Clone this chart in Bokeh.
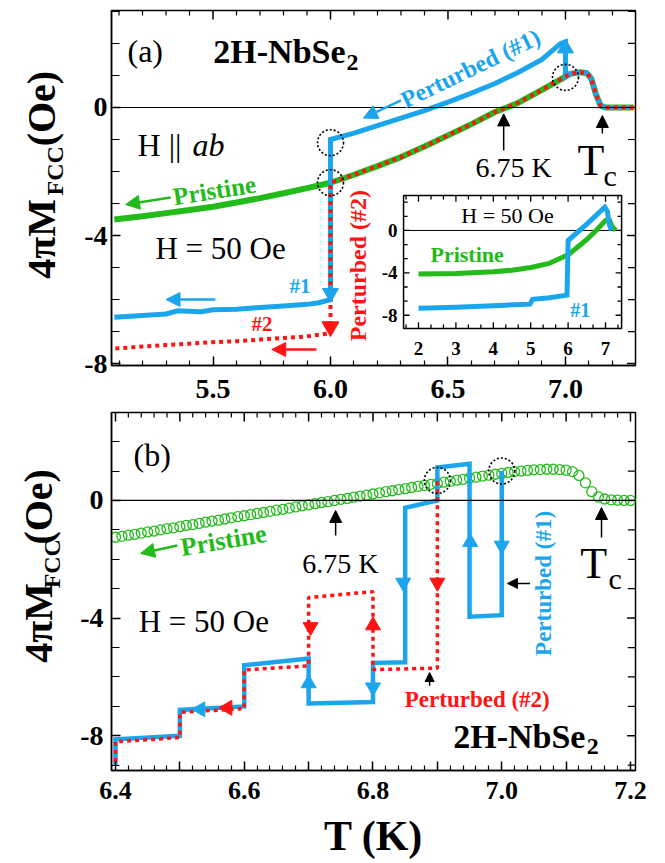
import math
from bokeh.plotting import figure
from bokeh.layouts import column, row
from bokeh.models import (Range1d, LinearAxis, FixedTicker, PrintfTickFormatter,
                          Span, Label, Arrow, NormalHead)
from bokeh.embed import file_html
from bokeh.resources import INLINE

FONT = "Liberation Serif"
BLUE = "#1BA5EC"
RED = "#FF1414"
GREEN = "#22BB1A"

# ---------------- panel (a) data ----------------
a_pristine_T = [5.08, 5.2, 5.3, 5.4, 5.5, 5.6, 5.7, 5.8, 5.9, 6.0, 6.1, 6.2, 6.3, 6.4, 6.5,
                6.6, 6.7, 6.75, 6.8, 6.9, 6.97, 7.02, 7.06, 7.09, 7.11, 7.13, 7.15, 7.17, 7.2, 7.29]
a_pristine_M = [-3.5, -3.4, -3.3, -3.2, -3.1, -2.97, -2.83, -2.68, -2.52, -2.35, -2.1, -1.83,
                -1.55, -1.22, -0.87, -0.52, -0.14, 0.0, 0.15, 0.55, 0.84, 1.05, 1.1, 1.08, 0.9,
                0.4, 0.05, 0.0, 0.0, 0.0]
a_blue_T = [7.29, 7.2, 7.17, 7.15, 7.13, 7.11, 7.09, 7.06, 7.02, 7.0, 7.0, 6.98, 6.9, 6.8, 6.7,
            6.6, 6.5, 6.4, 6.3, 6.2, 6.1, 6.0, 6.0, 5.95, 5.9, 5.8, 5.7, 5.6, 5.5, 5.45, 5.35,
            5.3, 5.2, 5.08]
a_blue_M = [0.0, 0.0, 0.0, 0.05, 0.4, 0.9, 1.08, 1.1, 1.05, 0.95, 2.05, 2.0, 1.5, 1.1, 0.75,
            0.45, 0.17, -0.1, -0.33, -0.57, -0.8, -1.0, -6.0, -6.1, -6.15, -6.2, -6.25, -6.3,
            -6.32, -6.38, -6.35, -6.45, -6.5, -6.55]
a_red_low_T = [6.0, 5.9, 5.8, 5.7, 5.6, 5.5, 5.4, 5.3, 5.2, 5.08]
a_red_low_M = [-7.05, -7.15, -7.2, -7.25, -7.3, -7.33, -7.38, -7.42, -7.47, -7.53]

inset_pristine_T = [2.0, 3.0, 4.0, 4.5, 5.0, 5.5, 6.0, 6.5, 6.75, 7.0, 7.1, 7.17, 7.27]
inset_pristine_M = [-4.1, -4.05, -3.9, -3.75, -3.5, -3.1, -2.3, -0.85, 0.0, 0.95, 1.05, 0.4, 0.0]
inset_blue_T = [2.0, 3.0, 4.0, 4.98, 5.05, 5.5, 5.97, 6.0, 6.5, 6.98, 7.05, 7.1, 7.16]
inset_blue_M = [-7.35, -7.25, -7.1, -6.95, -6.5, -6.35, -6.1, -0.95, 0.6, 2.2, 1.8, 0.6, 0.0]

a_xticks = [5.5, 6.0, 6.5, 7.0]
a_xminor = [5.1, 5.2, 5.3, 5.4, 5.6, 5.7, 5.8, 5.9, 6.1, 6.2, 6.3, 6.4, 6.6, 6.7, 6.8, 6.9, 7.1, 7.2]
a_yticks = [-8, -4, 0]
a_yminor = [-7, -6, -5, -3, -2, -1, 1, 2, 3]
inset_xticks = [2, 3, 4, 5, 6, 7]
inset_yticks = [-8, -4, 0]

# ---------------- panel (b) data ----------------
b_pristine_T = [6.40, 6.41, 6.42, 6.43, 6.44, 6.45, 6.46, 6.47, 6.48, 6.49, 6.50, 6.51, 6.52,
                6.53, 6.54, 6.55, 6.56, 6.57, 6.58, 6.59, 6.60, 6.61, 6.62, 6.63, 6.64, 6.65,
                6.66, 6.67, 6.68, 6.69, 6.70, 6.71, 6.72, 6.73, 6.74, 6.75, 6.76, 6.77, 6.78,
                6.79, 6.80, 6.81, 6.82, 6.83, 6.84, 6.85, 6.86, 6.87, 6.88, 6.89, 6.90, 6.91,
                6.92, 6.93, 6.94, 6.95, 6.96, 6.97, 6.98, 6.99, 7.00, 7.01, 7.02, 7.03, 7.04,
                7.05, 7.06, 7.07, 7.08, 7.09, 7.10, 7.11, 7.12, 7.13, 7.14, 7.15, 7.16, 7.17,
                7.18, 7.19, 7.20]
b_pristine_M = [-1.25, -1.22, -1.18, -1.15, -1.11, -1.07, -1.04, -1.00, -0.96, -0.93, -0.89,
                -0.85, -0.82, -0.78, -0.74, -0.70, -0.67, -0.63, -0.59, -0.55, -0.52, -0.48,
                -0.44, -0.41, -0.37, -0.33, -0.30, -0.26, -0.22, -0.18, -0.15, -0.11, -0.07,
                -0.04, 0.00, 0.04, 0.07, 0.11, 0.15, 0.18, 0.22, 0.26, 0.30, 0.33, 0.37, 0.40,
                0.44, 0.48, 0.51, 0.55, 0.58, 0.62, 0.65, 0.69, 0.72, 0.76, 0.79, 0.83, 0.86,
                0.89, 0.92, 0.95, 0.98, 1.00, 1.02, 1.04, 1.05, 1.06, 1.06, 1.05, 1.03, 0.98,
                0.85, 0.60, 0.30, 0.12, 0.05, 0.02, 0.01, 0.00, 0.00]
b_blue_T = [7.0, 7.0, 6.95, 6.95, 6.9, 6.9, 6.85, 6.85, 6.8, 6.8, 6.7, 6.7, 6.6, 6.6, 6.5, 6.5,
            6.4, 6.4]
b_blue_M = [1.0, -3.9, -3.95, 1.25, 1.12, 0.0, -0.25, -5.5, -5.52, -6.85, -6.9, -5.37, -5.6,
            -7.0, -7.12, -8.0, -8.12, -9.0]
b_red_T = [6.9, 6.9, 6.8, 6.8, 6.7, 6.7, 6.6, 6.6, 6.5, 6.5, 6.4, 6.4]
b_red_M = [0.65, -5.7, -5.75, -3.1, -3.3, -5.62, -5.76, -7.08, -7.2, -8.06, -8.2, -9.0]

b_xticks = [6.4, 6.5, 6.6, 6.7, 6.8, 6.9, 7.0, 7.1, 7.2]
b_xminor = [6.42, 6.44, 6.46, 6.48, 6.52, 6.54, 6.56, 6.58, 6.62, 6.64, 6.66, 6.68, 6.72, 6.74,
            6.76, 6.78, 6.82, 6.84, 6.86, 6.88, 6.92, 6.94, 6.96, 6.98, 7.02, 7.04, 7.06, 7.08,
            7.12, 7.14, 7.16, 7.18]
b_xlabel_hidden = {6.5: "", 6.7: "", 6.9: "", 7.1: ""}
b_yticks = [-8, -4, 0]
b_yminor = [-9, -7, -6, -5, -3, -2, -1, 1, 2]


# ---------------- helpers ----------------
def add_axis(p, loc, ticks, minor, fmt, size, standoff, tick_len=9, minor_len=5,
             overrides=None):
    ax = LinearAxis(ticker=FixedTicker(ticks=ticks, minor_ticks=minor),
                    formatter=PrintfTickFormatter(format=fmt))
    ax.axis_line_color = "black"
    ax.axis_line_width = 1.5
    ax.major_tick_in = tick_len
    ax.major_tick_out = 0
    ax.minor_tick_in = minor_len
    ax.minor_tick_out = 0
    ax.major_tick_line_width = 1.5
    ax.minor_tick_line_width = 1.2
    ax.major_tick_line_color = "black"
    ax.minor_tick_line_color = "black"
    ax.major_label_text_font = FONT
    ax.major_label_text_font_style = "bold"
    ax.major_label_text_color = "black"
    ax.major_label_text_font_size = size
    ax.major_label_standoff = standoff
    if overrides:
        ax.major_label_overrides = overrides
    p.add_layout(ax, loc)
    return ax


def mirror_ticks(p, xr, yr, xt, xm, yt, ym, lx, lxm, ly, lym):
    """inward ticks on the top and right frame edges (lengths in data units)"""
    top, right = yr[1], xr[1]
    for xs, ln, w in ((xt, lx, 1.5), (xm, lxm, 1.2)):
        p.segment(x0=xs, y0=[top] * len(xs), x1=xs, y1=[top - ln] * len(xs),
                  line_color="black", line_width=w)
    for ys, ln, w in ((yt, ly, 1.5), (ym, lym, 1.2)):
        p.segment(x0=[right] * len(ys), y0=ys, x1=[right - ln] * len(ys), y1=ys,
                  line_color="black", line_width=w)


def lab(p, x, y, text, size, color="black", style="normal", angle=0.0, align="left",
        baseline="middle", xr="default", yr="default"):
    p.add_layout(Label(x=x, y=y, text=text, text_font=FONT, text_font_size=size,
                       text_font_style=style, text_color=color, angle=angle,
                       text_align=align, text_baseline=baseline,
                       x_range_name=xr, y_range_name=yr))


def arr(p, x0, y0, x1, y1, color, size=12, width=2.0):
    p.add_layout(Arrow(end=NormalHead(size=size, fill_color=color, line_color=color),
                       x_start=x0, y_start=y0, x_end=x1, y_end=y1,
                       line_color=color, line_width=width))


def base_fig(w, h, xr, yr, bl, br, bt, bb):
    p = figure(width=w, height=h, x_range=Range1d(*xr), y_range=Range1d(*yr),
               output_backend="svg", toolbar_location=None,
               x_axis_type=None, y_axis_type=None,
               min_border_left=bl, min_border_right=br, min_border_top=bt,
               min_border_bottom=bb)
    p.outline_line_color = "black"
    p.outline_line_width = 1.5
    p.background_fill_color = "white"
    p.border_fill_color = "white"
    return p


def title_fig(h):
    """narrow strip holding the rotated y-axis title (coordinates = pixels, y downward)"""
    t = figure(width=LEFT_W, height=h, x_range=Range1d(0, LEFT_W), y_range=Range1d(h, 0),
               output_backend="svg", toolbar_location=None,
               x_axis_type=None, y_axis_type=None,
               min_border_left=0, min_border_right=0, min_border_top=0, min_border_bottom=0)
    t.outline_line_color = None
    t.background_fill_color = "white"
    t.border_fill_color = "white"
    return t


LEFT_W = 74
MAIN_W = 650 - LEFT_W
H_A, H_B = 405, 458

# ================= panel (a) =================
XR_A, YR_A = (5.068, 7.298), (-8.06, 3.03)
pa = base_fig(MAIN_W, H_A, XR_A, YR_A, 111 - LEFT_W, 15, 10, 40)
add_axis(pa, "below", a_xticks, a_xminor, "%.1f", "28px", 14)
add_axis(pa, "left", a_yticks, a_yminor, "%d", "28px", 4, 9, 8)
mirror_ticks(pa, XR_A, YR_A, a_xticks, a_xminor, a_yticks, a_yminor, 0.28, 0.16, 0.036, 0.032)
pa.add_layout(Span(location=0, dimension="width", line_color="black", line_width=1.2))

# inset scales (extra ranges mapped onto the main frame)
pa.extra_x_ranges = {"ix": Range1d(-6.209, 7.802)}
pa.extra_y_ranges = {"iy": Range1d(-12.74, 20.75)}
IN_L, IN_R, IN_B, IN_T = 1.6, 7.43, -9.25, 3.3

pa.line(a_pristine_T, a_pristine_M, line_color=GREEN, line_width=6)
pa.line(a_blue_T, a_blue_M, line_color=BLUE, line_width=5, line_join="miter")
a_red_T = [t for t in a_pristine_T[::-1] if t >= 6.0] + a_red_low_T
a_red_M = [m for t, m in zip(a_pristine_T[::-1], a_pristine_M[::-1]) if t >= 6.0] + a_red_low_M
pa.line(a_red_T, a_red_M, line_color=RED, line_width=4, line_dash="4 4")

pa.scatter([7.0], [1.85], marker="triangle", size=16, color=BLUE)
pa.scatter([6.0], [-5.8], marker="inverted_triangle", size=16, color=BLUE)
pa.scatter([6.0], [-6.85], marker="inverted_triangle", size=17, color=RED)
pa.scatter([6.0, 6.0, 7.0], [-1.1, -2.35, 0.94], marker="circle", size=26, fill_alpha=0,
           line_color="black", line_width=1.6, line_dash="2 2")

arr(pa, 5.51, -6.0, 5.30, -6.0, BLUE, 14, 2.5)
arr(pa, 5.94, -7.56, 5.75, -7.56, RED, 14, 2.5)
arr(pa, 6.30, 0.22, 6.14, -0.33, BLUE, 14, 2.5)
arr(pa, 5.32, -2.81, 5.128, -3.03, GREEN, 14, 2.5)
arr(pa, 6.737, -1.34, 6.737, -0.2, "black", 12, 1.5)
arr(pa, 7.157, -0.81, 7.157, -0.25, "black", 12, 1.5)

lab(pa, 5.136, 1.75, "(a)", "32px")
lab(pa, 6.064, 1.74, "2H-NbSe", "34px", style="bold", align="right")
lab(pa, 6.068, 1.41, "2", "24px", style="bold")
lab(pa, 5.179, -1.16, "H || ", "32px")
lab(pa, 5.413, -1.16, "ab", "32px", style="italic")
lab(pa, 5.255, -4.39, "H = 50 Oe", "31px")
lab(pa, 5.506, -2.59, "Pristine", "25px", GREEN, "bold", 0.157, "center")
lab(pa, 6.596, 1.22, "Perturbed (#1)", "24px", BLUE, "bold", 0.449, "center")
lab(pa, 6.115, -4.94, "Perturbed (#2)", "24px", RED, "bold", math.pi / 2, "center")
lab(pa, 5.825, -5.59, "#1", "21px", BLUE, "bold")
lab(pa, 5.664, -6.75, "#2", "21px", RED, "bold")
lab(pa, 6.617, -1.89, "6.75 K", "28px")
lab(pa, 7.051, -1.66, "T", "44px")
lab(pa, 7.162, -2.125, "c", "30px")

# inset
IK = dict(x_range_name="ix", y_range_name="iy")
pa.quad(left=[IN_L], right=[IN_R], bottom=[IN_B], top=[IN_T], fill_color="white",
        line_color="black", line_width=1.5, **IK)
pa.segment(x0=[IN_L], y0=[0], x1=[IN_R], y1=[0], line_color="black", line_width=1.0, **IK)
ix_minor = [x + d for x in [1] + inset_xticks for d in (1 / 3, 2 / 3)]
ix_minor = [x for x in ix_minor if IN_L < x < IN_R]
iy_minor = [y + d for y in [-12] + inset_yticks for d in (4 / 3, 8 / 3)]
iy_minor = [y for y in iy_minor if IN_B < y < IN_T]
for xs, ln in ((inset_xticks, 0.6), (ix_minor, 0.38)):
    pa.segment(x0=xs, y0=[IN_B] * len(xs), x1=xs, y1=[IN_B + ln] * len(xs),
               line_color="black", line_width=1.3, **IK)
    pa.segment(x0=xs, y0=[IN_T] * len(xs), x1=xs, y1=[IN_T - ln] * len(xs),
               line_color="black", line_width=1.3, **IK)
for ys, ln in ((inset_yticks, 0.16), (iy_minor, 0.11)):
    pa.segment(x0=[IN_L] * len(ys), y0=ys, x1=[IN_L + ln] * len(ys), y1=ys,
               line_color="black", line_width=1.3, **IK)
    pa.segment(x0=[IN_R] * len(ys), y0=ys, x1=[IN_R - ln] * len(ys), y1=ys,
               line_color="black", line_width=1.3, **IK)
pa.line(inset_pristine_T, inset_pristine_M, line_color=GREEN, line_width=5, **IK)
pa.line(inset_blue_T, inset_blue_M, line_color=BLUE, line_width=5, line_join="miter", **IK)
for t in inset_xticks:
    lab(pa, t, -11.18, str(t), "19px", style="bold", align="center", xr="ix", yr="iy")
for v in inset_yticks:
    lab(pa, 1.44, v, str(v), "19px", style="bold", align="right", xr="ix", yr="iy")
lab(pa, 4.38, 1.37, "H = 50 Oe", "22px", align="center", xr="ix", yr="iy")
lab(pa, 2.32, -2.31, "Pristine", "22px", GREEN, "bold", xr="ix", yr="iy")
lab(pa, 6.06, -7.55, "#1", "20px", BLUE, "bold", xr="ix", yr="iy")

# y-axis title (a)
ta = title_fig(H_A)
lab(ta, 41, 306, "4πM", "40px", style="bold", angle=math.pi / 2)
lab(ta, 54, 211, "FCC", "24px", style="bold", angle=math.pi / 2)
lab(ta, 41, 155, "(Oe)", "40px", style="bold", angle=math.pi / 2)

# ================= panel (b) =================
XR_B, YR_B = (6.3938, 7.2078), (-9.18, 2.99)
pb = base_fig(MAIN_W, H_B, XR_B, YR_B, 111 - LEFT_W, 15, 7, 93)
xb = add_axis(pb, "below", b_xticks, b_xminor, "%.1f", "26px", 11, 9, 5, b_xlabel_hidden)
xb.axis_label = "T (K)"
xb.axis_label_text_font = FONT
xb.axis_label_text_font_style = "bold"
xb.axis_label_text_font_size = "42px"
xb.axis_label_text_color = "black"
xb.axis_label_standoff = 11
add_axis(pb, "left", b_yticks, b_yminor, "%d", "28px", 8, 9, 8)
mirror_ticks(pb, XR_B, YR_B, b_xticks, b_xminor, b_yticks, b_yminor, 0.31, 0.17, 0.013, 0.012)
pb.add_layout(Span(location=0, dimension="width", line_color="black", line_width=1.2))

pb.scatter(b_pristine_T, b_pristine_M, marker="circle", size=10, fill_alpha=0,
           line_color=GREEN, line_width=1.3)
pb.line(b_blue_T, b_blue_M, line_color=BLUE, line_width=4.5, line_join="miter")
pb.line(b_red_T, b_red_M, line_color=RED, line_width=3.5, line_dash="4 4")

pb.scatter([7.0, 6.847, 6.8], [-1.53, -2.79, -6.35], marker="inverted_triangle", size=15,
           color=BLUE)
pb.scatter([6.951, 6.7], [-1.42, -6.22], marker="triangle", size=15, color=BLUE)
pb.scatter([6.532], [-7.1], marker="triangle", angle=math.pi / 2, size=15, color=BLUE)
pb.scatter([6.9, 6.703], [-2.79, -4.3], marker="inverted_triangle", size=15, color=RED)
pb.scatter([6.8], [-4.25], marker="triangle", size=15, color=RED)
pb.scatter([6.574], [-7.05], marker="triangle", angle=math.pi / 2, size=15, color=RED)
pb.scatter([6.9, 7.0], [0.68, 1.0], marker="circle", size=26, fill_alpha=0,
           line_color="black", line_width=1.6, line_dash="2 2")

arr(pb, 6.742, -1.19, 6.742, -0.34, "black", 12, 1.5)
arr(pb, 7.155, -1.26, 7.155, -0.24, "black", 12, 1.5)
arr(pb, 6.496, -1.53, 6.439, -1.80, GREEN, 14, 2.5)
arr(pb, 7.044, -2.82, 7.009, -2.82, "black", 10, 1.5)
arr(pb, 6.888, -6.3, 6.888, -5.85, "black", 9, 1.5)

lab(pb, 6.428, 1.53, "(b)", "32px")
lab(pb, 6.568, -1.36, "Pristine", "26px", GREEN, "bold", 0.166, "center")
lab(pb, 6.690, -2.16, "6.75 K", "28px")
lab(pb, 6.436, -4.13, "H = 50 Oe", "31px")
lab(pb, 7.122, -2.14, "T", "44px")
lab(pb, 7.166, -2.65, "c", "30px")
lab(pb, 7.065, -2.82, "Perturbed (#1)", "23px", BLUE, "bold", math.pi / 2, "center")
lab(pb, 6.962, -6.77, "Perturbed (#2)", "23px", RED, "bold", align="center")
lab(pb, 7.130, -8.03, "2H-NbSe", "34px", style="bold", align="right")
lab(pb, 7.132, -8.37, "2", "24px", style="bold")

# y-axis title (b)
tb = title_fig(H_B)
lab(tb, 38, 320, "4πM", "40px", style="bold", angle=math.pi / 2)
lab(tb, 51, 225, "FCC", "24px", style="bold", angle=math.pi / 2)
lab(tb, 38, 169, "(Oe)", "40px", style="bold", angle=math.pi / 2)

layout = column(row(ta, pa, spacing=0), row(tb, pb, spacing=0), spacing=0)
open("out.html", "w").write(file_html(layout, INLINE))
